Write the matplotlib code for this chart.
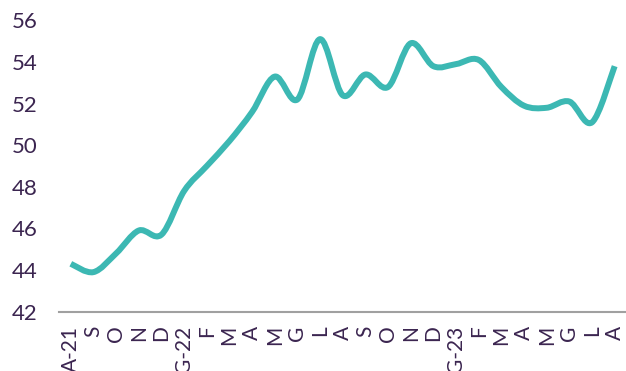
import numpy as np
import matplotlib.pyplot as plt
from matplotlib.path import Path
from matplotlib.patches import PathPatch

plt.rcParams['font.family'] = ['Lato', 'DejaVu Sans']

# %%
months = ["A-21", "S", "O", "N", "D", "G-22", "F", "M", "A", "M", "G", "L",
          "A", "S", "O", "N", "D", "G-23", "F", "M", "A", "M", "G", "L", "A"]
values = [44.3, 43.9, 44.8, 45.9, 45.7, 47.8, 49.0, 50.2, 51.6, 53.3, 52.2, 55.1,
          52.4, 53.4, 52.8, 54.9, 53.8, 53.9, 54.1, 52.8, 51.9, 51.8, 52.1, 51.1, 53.8]

line_col = "#3cb8b3"
text_col = "#3b2550"

# %%
x = np.arange(len(values))
y = np.array(values, dtype=float)

# smoothed line like a spreadsheet chart: catmull-rom -> cubic bezier
verts = [(x[0], y[0])]
codes = [Path.MOVETO]
n = len(x)
for i in range(n - 1):
    p0 = np.array([x[max(i - 1, 0)], y[max(i - 1, 0)]])
    p1 = np.array([x[i], y[i]])
    p2 = np.array([x[i + 1], y[i + 1]])
    p3 = np.array([x[min(i + 2, n - 1)], y[min(i + 2, n - 1)]])
    c1 = p1 + (p2 - p0) / 6
    c2 = p2 - (p3 - p1) / 6
    verts += [tuple(c1), tuple(c2), tuple(p2)]
    codes += [Path.CURVE4] * 3

fig = plt.figure(figsize=(6.26, 3.71), dpi=100)
ax = fig.add_axes([0.095, 0.160, 0.905, 0.785])
ax.add_patch(PathPatch(Path(verts, codes), facecolor="none", edgecolor=line_col,
                       lw=4.3, capstyle="butt", joinstyle="round"))

ax.set_xlim(-0.5, len(values) - 0.5)
ax.set_ylim(42, 56)
ax.set_yticks(range(42, 57, 2))
ax.set_xticks(x)
ax.set_xticklabels(months, rotation=90, va="top", ha="center")

for s in ["top", "right", "left"]:
    ax.spines[s].set_visible(False)
ax.spines["bottom"].set_color("#a0a0a0")
ax.spines["bottom"].set_linewidth(1.5)
ax.tick_params(axis="both", length=0, colors=text_col)
ax.tick_params(axis="y", pad=16, labelsize=16)
ax.tick_params(axis="x", pad=10, labelsize=15)

plt.savefig("out.png", dpi=100)
